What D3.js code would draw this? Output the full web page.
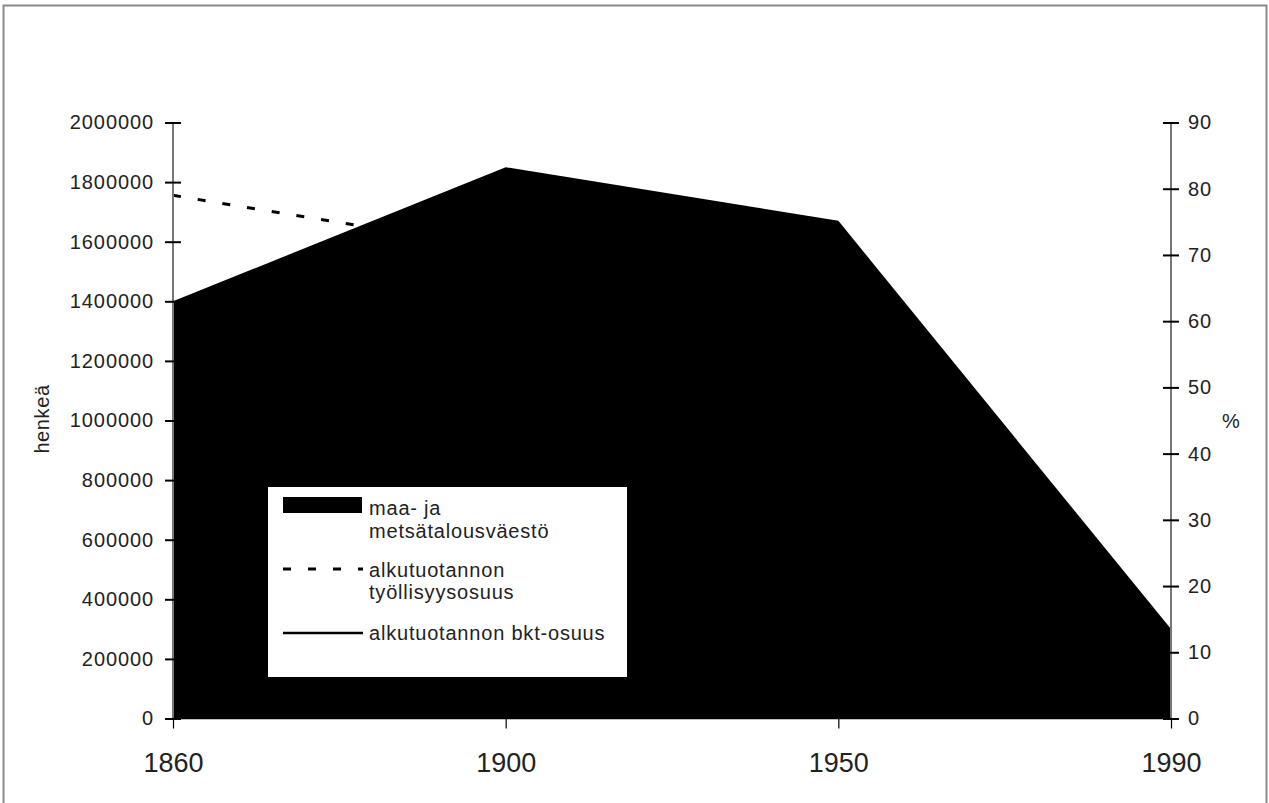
<!DOCTYPE html>
<html>
<head>
<meta charset="utf-8">
<script src="https://cdn.jsdelivr.net/npm/d3@7"></script>
<style>
  body { margin: 0; background: #fff; }
  text { font-family: "Liberation Sans", Arial, sans-serif; }
</style>
</head>
<body>
<div id="plot"></div>
<script>
// data
const years = ["1860", "1900", "1950", "1990"];
const maaMetsa = [1400000, 1850000, 1670000, 300000];   // henkeä
const tyollisyysOsuus = [79, 70.8, 46, 9];              // %
const bktOsuus = [60, 47, 27, 5];                       // %
const leftTicks = [0, 200000, 400000, 600000, 800000, 1000000, 1200000, 1400000, 1600000, 1800000, 2000000];
const rightTicks = [0, 10, 20, 30, 40, 50, 60, 70, 80, 90];

const W = 1269, H = 803;
let svg = d3.select("#plot")
	.append("svg")
		.attr("width", W)
		.attr("height", H);

// outer frame
svg.append("rect")
	.attr("x", 3.5).attr("y", 5.5)
	.attr("width", 1263).attr("height", 820)
	.attr("fill", "none")
	.attr("stroke", "#8a8a8a")
	.attr("stroke-width", 2);

let x = d3.scalePoint()
	.domain(years)
	.range([173, 1171]);

let y = d3.scaleLinear()
	.domain([0, 2000000])
	.range([718.5, 122.5]);

let y2 = d3.scaleLinear()
	.domain([0, 90])
	.range([718.5, 122.5]);

// area
let area = d3.area()
	.x((d, i) => x(years[i]))
	.y0(y(0))
	.y1(d => y(d));

svg.append("path")
	.datum(maaMetsa)
	.attr("d", area)
	.attr("fill", "#000");

// lines (black, mostly hidden in the area)
let line = d3.line()
	.x((d, i) => x(years[i]))
	.y(d => y2(d));

svg.append("path")
	.datum(tyollisyysOsuus)
	.attr("d", line)
	.attr("fill", "none")
	.attr("stroke", "#000")
	.attr("stroke-width", 3)
	.attr("stroke-dasharray", "8,17");

svg.append("path")
	.datum(bktOsuus)
	.attr("d", line)
	.attr("fill", "none")
	.attr("stroke", "#000")
	.attr("stroke-width", 2);

// left axis
let gl = svg.append("g")
	.attr("transform", "translate(173,0)")
	.call(d3.axisLeft(y).tickValues(leftTicks).tickFormat(d3.format("d")).tickSize(8).tickPadding(11));
gl.select(".domain").attr("stroke", "#777").attr("stroke-width", 2).attr("d", "M0," + y(2000000) + "V" + y(0));
gl.selectAll(".tick line").attr("x1", -8).attr("x2", 8)
	.attr("stroke", "#000").attr("stroke-width", 2);
gl.selectAll(".tick text").attr("font-size", 20).attr("letter-spacing", 0.9).attr("fill", "#222")
	.attr("font-family", "Liberation Sans, Arial, sans-serif");

// right axis
let gr = svg.append("g")
	.attr("transform", "translate(1171,0)")
	.call(d3.axisRight(y2).tickValues(rightTicks).tickSize(8).tickPadding(9));
gr.select(".domain").attr("stroke", "#777").attr("stroke-width", 2).attr("d", "M0," + y2(90) + "V" + y2(0));
gr.selectAll(".tick line").attr("x1", -8).attr("x2", 8)
	.attr("stroke", "#000").attr("stroke-width", 2);
gr.selectAll(".tick text").attr("font-size", 20).attr("letter-spacing", 0.9).attr("fill", "#222")
	.attr("font-family", "Liberation Sans, Arial, sans-serif");

// bottom axis
let gb = svg.append("g")
	.attr("transform", "translate(0," + y(0) + ")")
	.call(d3.axisBottom(x).tickSize(10).tickPadding(24));
gb.select(".domain").attr("stroke", "#000").attr("stroke-width", 1.5).attr("d", "M173,0H1171");
gb.selectAll(".tick line").attr("stroke", "#000").attr("stroke-width", 1.2);
gb.selectAll(".tick text").attr("font-size", 27).attr("fill", "#222")
	.attr("font-family", "Liberation Sans, Arial, sans-serif");

// axis titles
svg.append("text")
	.attr("transform", "translate(49,419) rotate(-90)")
	.attr("text-anchor", "middle")
	.attr("font-size", 20)
	.attr("letter-spacing", 0.6)
	.attr("fill", "#222")
	.text("henkeä");

svg.append("text")
	.attr("x", 1231).attr("y", 428)
	.attr("text-anchor", "middle")
	.attr("font-size", 20)
	.attr("fill", "#222")
	.text("%");

// legend
let lg = svg.append("g");
lg.append("rect")
	.attr("x", 267.5).attr("y", 486.5)
	.attr("width", 360).attr("height", 191)
	.attr("fill", "#fff")
	.attr("stroke", "#000");
lg.append("rect")
	.attr("x", 283).attr("y", 497)
	.attr("width", 79).attr("height", 16)
	.attr("fill", "#000");
lg.append("line")
	.attr("x1", 283).attr("x2", 363)
	.attr("y1", 569).attr("y2", 569)
	.attr("stroke", "#000").attr("stroke-width", 3)
	.attr("stroke-dasharray", "8,17");
lg.append("line")
	.attr("x1", 283).attr("x2", 363)
	.attr("y1", 633).attr("y2", 633)
	.attr("stroke", "#000").attr("stroke-width", 2.5);

const legendLines = [
	["maa- ja", 515], ["metsätalousväestö", 538],
	["alkutuotannon", 577], ["työllisyysosuus", 599],
	["alkutuotannon bkt-osuus", 640]
];
lg.selectAll("text.leg")
	.data(legendLines)
	.enter()
	.append("text")
		.attr("class", "leg")
		.attr("x", 369)
		.attr("y", d => d[1])
		.attr("font-size", 20)
		.attr("letter-spacing", 0.8)
		.attr("fill", "#222")
		.text(d => d[0]);
</script>
</body>
</html>
